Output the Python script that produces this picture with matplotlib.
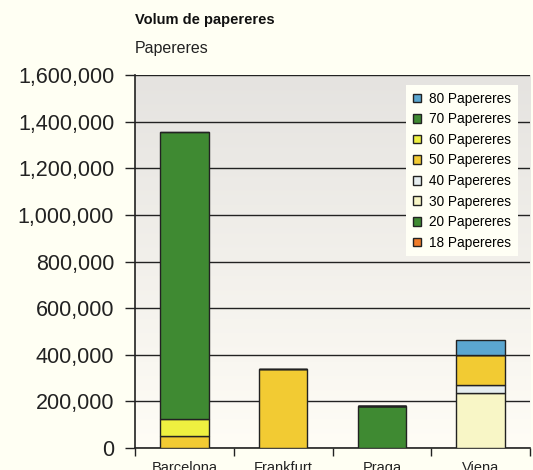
import numpy as np
import matplotlib
matplotlib.use('Agg')
import matplotlib.pyplot as plt
from matplotlib.patches import Patch

plt.rcParams['font.family'] = ['Liberation Sans', 'DejaVu Sans']

cities = ['Barcelona', 'Frankfurt', 'Praga', 'Viena']
series = ['18 Papereres', '20 Papereres', '30 Papereres', '40 Papereres',
          '50 Papereres', '60 Papereres', '70 Papereres', '80 Papereres']
colors = ['#f07c2a', '#3f8a32', '#f8f6c6', '#e6eef0',
          '#f2cb33', '#eef040', '#3f8a32', '#5ba6d0']

p18 = [0, 0, 0, 0]
p20 = [0, 0, 181000, 0]
p30 = [0, 0, 0, 236000]
p40 = [0, 0, 0, 34000]
p50 = [50000, 339000, 0, 129000]
p60 = [75000, 0, 0, 0]
p70 = [1230000, 0, 0, 0]
p80 = [0, 0, 0, 65000]
values = [p18, p20, p30, p40, p50, p60, p70, p80]

bg = '#fffff3'
fig = plt.figure(figsize=(5.33, 4.70), dpi=100, facecolor=bg)
ax = fig.add_axes([0.2533, 0.0468, 0.7411, 0.7936])
ax.set_facecolor(bg)

# gradient backdrop
grad = np.linspace(0, 1, 256).reshape(-1, 1)
top = np.array([0.898, 0.890, 0.878])
bot = np.array([1.0, 0.992, 0.965])
img = top + (bot - top) * grad[:, :, None] * np.ones((1, 1, 3))
ax.imshow(img, extent=[0, 1, 0, 1], transform=ax.transAxes, aspect='auto', zorder=0)

x = np.arange(len(cities))
bottom = np.zeros(len(cities))
for name, vals, c in zip(series, values, colors):
    vals = np.array(vals, dtype=float)
    ax.bar(x, vals, 0.49, bottom=bottom, color=c, edgecolor='#222222',
           linewidth=1.0, zorder=3)
    bottom += vals

ax.set_xlim(-0.5, 3.5)
ax.set_ylim(0, 1600000)
ax.set_yticks(np.arange(0, 1600001, 200000))
ax.set_yticklabels([f'{v:,}' for v in range(0, 1600001, 200000)], fontsize=15.5, color='#222222')
ax.yaxis.grid(True, color='#222222', linewidth=1.0, zorder=1)
ax.set_axisbelow(True)
ax.tick_params(axis='y', length=7, width=1, pad=8, direction='out', color='#222222')

ax.set_xticks([-0.5, 0.5, 1.5, 2.5, 3.5])
ax.set_xticklabels([])
ax.set_xticks(x, minor=True)
ax.set_xticklabels(cities, minor=True, fontsize=10.5, color='#222222')
ax.tick_params(axis='x', which='major', length=6, width=1, direction='out', color='#222222')
ax.tick_params(axis='x', which='minor', length=0, pad=9)

for s in ['top', 'right']:
    ax.spines[s].set_visible(False)
ax.spines['left'].set_color('#222222')
ax.spines['bottom'].set_color('#222222')
ax.spines['left'].set_linewidth(1.2)
ax.spines['bottom'].set_linewidth(1.2)

handles = [Patch(facecolor=c, edgecolor='#222222', linewidth=1.0, label=n)
           for n, c in zip(series, colors)]
leg = ax.legend(handles[::-1], series[::-1], loc='upper right', bbox_to_anchor=(0.97, 0.973),
                borderaxespad=0, fontsize=9.8, frameon=True, fancybox=False,
                handlelength=0.6, handleheight=0.6, handletextpad=0.6,
                labelspacing=0.48, borderpad=0.5)
leg.get_frame().set_facecolor('#fffff5')
leg.get_frame().set_edgecolor('none')
leg.get_frame().set_alpha(1)
leg.set_zorder(5)

fig.text(135 / 533, 1 - 20 / 470, 'Volum de papereres', fontsize=10.5, fontweight='bold',
         color='#111111', va='center', ha='left')
fig.text(135 / 533, 1 - 48 / 470, 'Papereres', fontsize=11.5, color='#222222',
         va='center', ha='left')

fig.savefig('out.png', dpi=100, facecolor=bg)
